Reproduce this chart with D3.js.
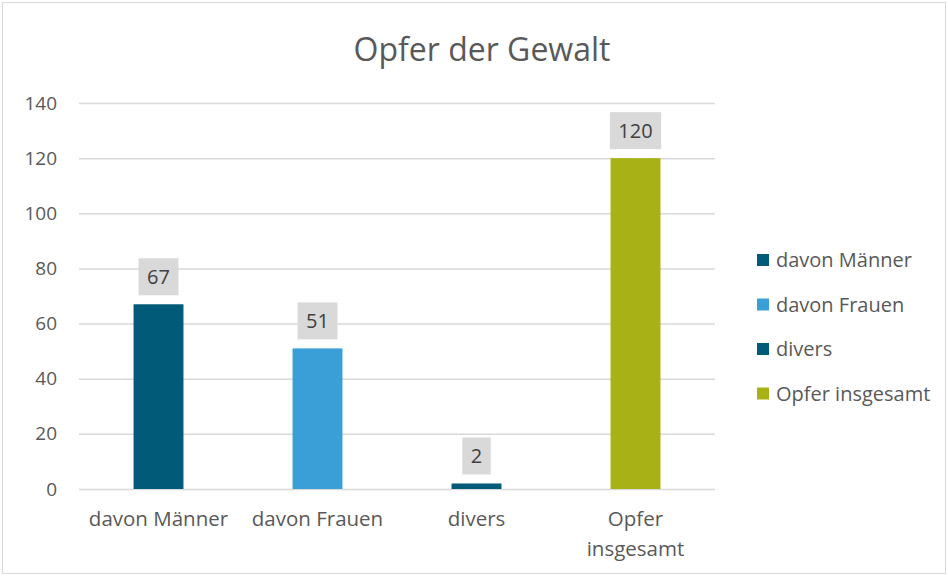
<!DOCTYPE html>
<html>
<head>
<meta charset="utf-8">
<script src="https://cdn.jsdelivr.net/npm/d3@7"></script>
<style>
  body { margin: 0; background: #fff; }
  text { font-family: "Open Sans", sans-serif; }
</style>
</head>
<body>
<div id="chart"></div>
<script>
    const width = 948, height = 576;

    // Daten
    const categories = ["davon Männer", "davon Frauen", "divers", "Opfer insgesamt"];
    const values = [67, 51, 2, 120];
    const barColors = ["#005a78", "#3a9fd6", "#005a78", "#a8b217"];
    const yTicks = [0, 20, 40, 60, 80, 100, 120, 140];
    const title = "Opfer der Gewalt";

    const margin = { top: 103, left: 79, right: 233, bottom: 87 };

    const svg = d3.select("#chart")
        .append("svg")
        .attr("width", width)
        .attr("height", height);

    // Rahmen
    svg.append("rect")
        .attr("x", 2.5).attr("y", 2.5)
        .attr("width", width - 5).attr("height", height - 5)
        .attr("fill", "#fff")
        .attr("stroke", "#d9d9d9");

    const x = d3.scaleBand()
        .domain(categories)
        .range([margin.left, width - margin.right])
        .paddingInner(0.686)
        .paddingOuter(0.343);

    const y = d3.scaleLinear()
        .domain([0, 140])
        .range([height - margin.bottom, margin.top]);

    // Titel
    svg.append("text")
        .attr("x", 482)
        .attr("y", 61)
        .attr("text-anchor", "middle")
        .attr("font-size", 32)
        .attr("fill", "#595959")
        .text(title);

    // Gitterlinien + y-Achse
    const yAxis = svg.append("g")
        .attr("transform", `translate(${margin.left},0)`)
        .call(d3.axisLeft(y).tickValues(yTicks)
            .tickSize(-(width - margin.left - margin.right))
            .tickPadding(22));
    yAxis.select(".domain").remove();
    yAxis.selectAll(".tick line").attr("stroke", "#d9d9d9").attr("stroke-width", 1.5);
    yAxis.selectAll(".tick text")
        .attr("font-size", 19)
        .attr("fill", "#595959")
        .attr("font-family", "Open Sans, sans-serif");

    // Balken
    svg.selectAll(".bar")
        .data(values)
        .enter().append("rect")
        .attr("class", "bar")
        .attr("x", (d, i) => x(categories[i]))
        .attr("y", d => y(d))
        .attr("width", x.bandwidth())
        .attr("height", d => y(0) - y(d))
        .attr("fill", (d, i) => barColors[i]);

    // Datenbeschriftungen mit grauem Kasten
    const labels = svg.selectAll(".lbl")
        .data(values)
        .enter().append("g")
        .attr("class", "lbl");
    labels.each(function (d, i) {
        const g = d3.select(this);
        const cx = x(categories[i]) + x.bandwidth() / 2;
        const t = g.append("text")
            .attr("x", cx)
            .attr("y", y(d) - 20)
            .attr("text-anchor", "middle")
            .attr("font-size", 20)
            .attr("fill", "#404040")
            .text(d);
        const w = t.node().getComputedTextLength() + 17;
        g.insert("rect", "text")
            .attr("x", cx - w / 2)
            .attr("y", y(d) - 46)
            .attr("width", w)
            .attr("height", 37)
            .attr("fill", "#d9d9d9");
    });

    // x-Achsenbeschriftung (mit Umbruch)
    const xLab = svg.selectAll(".xlab")
        .data(categories)
        .enter().append("text")
        .attr("class", "xlab")
        .attr("text-anchor", "middle")
        .attr("font-size", 20.5)
        .attr("fill", "#595959");
    xLab.each(function (d) {
        const t = d3.select(this);
        const cx = x(d) + x.bandwidth() / 2;
        const lines = d === "Opfer insgesamt" ? ["Opfer", "insgesamt"] : [d];
        lines.forEach((l, k) => {
            t.append("tspan")
                .attr("x", cx)
                .attr("y", 526 + k * 30)
                .text(l);
        });
    });

    // Legende
    const legend = svg.selectAll(".leg")
        .data(categories)
        .enter().append("g")
        .attr("class", "leg")
        .attr("transform", (d, i) => `translate(757, ${260 + i * 44.5})`);
    legend.append("rect")
        .attr("x", 0).attr("y", -6)
        .attr("width", 12).attr("height", 12)
        .attr("fill", (d, i) => barColors[i]);
    legend.append("text")
        .attr("x", 19)
        .attr("y", 7)
        .attr("font-size", 20)
        .attr("fill", "#595959")
        .text(d => d);
</script>
</body>
</html>
